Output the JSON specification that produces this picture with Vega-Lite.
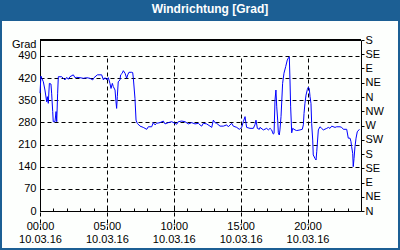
{
  "$schema": "https://vega.github.io/schema/vega-lite/v6.json",
  "width": 396,
  "height": 227,
  "autosize": {"type": "none"},
  "padding": {"left": 2, "top": 21, "right": 2, "bottom": 2},
  "background": "#1c5f94",
  "title": {"text": "Windrichtung [Grad]", "color": "#ffffff", "font": "Liberation Sans", "fontSize": 12, "fontWeight": "bold", "anchor": "middle", "frame": "group", "baseline": "middle", "offset": 0, "dx": 10, "dy": 0},
  "config": {
    "view": {"fill": "#fdfffd", "stroke": null},
    "axis": {"labelFont": "Liberation Sans", "labelFontSize": 11, "labelColor": "#000000", "titleFont": "Liberation Sans", "titleFontSize": 11, "titleFontWeight": "normal", "titleColor": "#000000", "domainColor": "#000000", "tickColor": "#000000", "gridColor": "#000000", "gridOpacity": 1, "gridDash": [4, 3], "domainWidth": 1, "tickWidth": 1, "gridWidth": 1}
  },
  "data": {"values": [
    {"h":0,"v":372},{"h":0.07,"v":426},{"h":0.25,"v":408},{"h":0.37,"v":382},{"h":0.5,"v":345},{"h":0.55,"v":361},{"h":0.62,"v":340},{"h":0.7,"v":403},{"h":0.82,"v":401},{"h":0.87,"v":372},{"h":0.95,"v":314},{"h":0.99,"v":282},{"h":1.12,"v":282},{"h":1.2,"v":314},{"h":1.25,"v":282},{"h":1.32,"v":372},{"h":1.37,"v":424},{"h":1.62,"v":424},{"h":1.74,"v":419},{"h":1.87,"v":414},{"h":2.0,"v":422},{"h":2.12,"v":416},{"h":2.24,"v":424},{"h":2.49,"v":430},{"h":2.62,"v":421},{"h":2.74,"v":422},{"h":2.99,"v":421},{"h":3.24,"v":419},{"h":3.49,"v":421},{"h":3.74,"v":419},{"h":3.94,"v":414},{"h":4.04,"v":421},{"h":4.29,"v":430},{"h":4.61,"v":430},{"h":4.74,"v":414},{"h":4.86,"v":421},{"h":4.99,"v":414},{"h":5.11,"v":421},{"h":5.23,"v":403},{"h":5.31,"v":387},{"h":5.41,"v":403},{"h":5.48,"v":393},{"h":5.61,"v":382},{"h":5.68,"v":345},{"h":5.73,"v":324},{"h":5.78,"v":361},{"h":5.85,"v":408},{"h":5.98,"v":414},{"h":6.03,"v":430},{"h":6.15,"v":435},{"h":6.23,"v":443},{"h":6.36,"v":435},{"h":6.48,"v":419},{"h":6.56,"v":430},{"h":6.65,"v":438},{"h":6.86,"v":438},{"h":6.93,"v":437},{"h":6.98,"v":419},{"h":7.1,"v":356},{"h":7.18,"v":287},{"h":7.27,"v":277},{"h":7.48,"v":268},{"h":7.72,"v":264},{"h":7.98,"v":258},{"h":8.1,"v":266},{"h":8.35,"v":266},{"h":8.47,"v":279},{"h":8.6,"v":272},{"h":8.72,"v":277},{"h":8.97,"v":279},{"h":9.22,"v":284},{"h":9.35,"v":275},{"h":9.59,"v":279},{"h":9.85,"v":282},{"h":10.22,"v":274},{"h":10.34,"v":282},{"h":10.59,"v":284},{"h":10.84,"v":282},{"h":11.09,"v":275},{"h":11.34,"v":279},{"h":11.59,"v":275},{"h":11.84,"v":277},{"h":11.96,"v":272},{"h":12.09,"v":268},{"h":12.21,"v":277},{"h":12.46,"v":275},{"h":12.71,"v":268},{"h":12.84,"v":264},{"h":12.96,"v":287},{"h":13.08,"v":279},{"h":13.21,"v":277},{"h":13.46,"v":268},{"h":13.71,"v":268},{"h":13.96,"v":272},{"h":14.08,"v":266},{"h":14.33,"v":277},{"h":14.45,"v":268},{"h":14.71,"v":264},{"h":14.9,"v":258},{"h":15.08,"v":264},{"h":15.2,"v":282},{"h":15.33,"v":298},{"h":15.4,"v":277},{"h":15.45,"v":264},{"h":15.7,"v":261},{"h":15.95,"v":261},{"h":16.07,"v":272},{"h":16.15,"v":287},{"h":16.25,"v":261},{"h":16.4,"v":258},{"h":16.45,"v":264},{"h":16.7,"v":256},{"h":16.95,"v":261},{"h":17.07,"v":256},{"h":17.2,"v":261},{"h":17.32,"v":256},{"h":17.44,"v":243},{"h":17.5,"v":245},{"h":17.57,"v":350},{"h":17.64,"v":382},{"h":17.7,"v":329},{"h":17.77,"v":287},{"h":17.82,"v":247},{"h":17.89,"v":240},{"h":17.94,"v":256},{"h":18.02,"v":298},{"h":18.14,"v":403},{"h":18.24,"v":435},{"h":18.37,"v":456},{"h":18.49,"v":477},{"h":18.59,"v":485},{"h":18.64,"v":487},{"h":18.69,"v":414},{"h":18.74,"v":329},{"h":18.82,"v":247},{"h":18.89,"v":261},{"h":19.07,"v":256},{"h":19.19,"v":254},{"h":19.44,"v":256},{"h":19.61,"v":258},{"h":19.69,"v":272},{"h":19.74,"v":308},{"h":19.81,"v":340},{"h":19.89,"v":366},{"h":19.99,"v":384},{"h":20.06,"v":391},{"h":20.13,"v":387},{"h":20.19,"v":361},{"h":20.26,"v":340},{"h":20.31,"v":277},{"h":20.39,"v":224},{"h":20.43,"v":177},{"h":20.56,"v":166},{"h":20.64,"v":161},{"h":20.69,"v":187},{"h":20.81,"v":256},{"h":20.93,"v":266},{"h":21.06,"v":261},{"h":21.18,"v":256},{"h":21.44,"v":261},{"h":21.56,"v":264},{"h":21.68,"v":261},{"h":21.81,"v":268},{"h":22.06,"v":264},{"h":22.18,"v":266},{"h":22.43,"v":266},{"h":22.56,"v":264},{"h":22.68,"v":258},{"h":22.93,"v":258},{"h":23.05,"v":230},{"h":23.18,"v":230},{"h":23.25,"v":219},{"h":23.3,"v":203},{"h":23.38,"v":182},{"h":23.42,"v":140},{"h":23.48,"v":166},{"h":23.55,"v":203},{"h":23.63,"v":230},{"h":23.72,"v":250},{"h":23.88,"v":258}
  ]},
  "layer": [
    {
      "mark": {"type": "line", "color": "#0000ff", "strokeWidth": 1},
      "encoding": {
        "x": {"field": "h", "type": "quantitative",
          "scale": {"domain": [0, 24], "range": [38, 359], "nice": false, "zero": false},
          "axis": {"orient": "bottom", "offset": -37, "values": [0, 5, 10, 15, 20], "grid": true, "ticks": false, "tickSize": 0, "domain": true, "labelPadding": 9, "labelLineHeight": 13, "labelExpr": "[(datum.value < 10 ? '0' : '') + datum.value + ':00', '\u00a0\u00a0\u00a0\u00a010.03.16']", "title": null, "labelFlush": false, "labelOverlap": false}},
        "y": {"field": "v", "type": "quantitative",
          "scale": {"domain": [0, 540], "range": [190, 19], "nice": false, "zero": false},
          "axis": {"orient": "left", "offset": -38, "values": [0, 70, 140, 210, 280, 350, 420, 490], "grid": true, "ticks": false, "tickSize": 0, "labelPadding": 4, "title": "Grad", "titleAngle": 0, "titleAlign": "right", "titleBaseline": "middle", "titleX": -4, "titleY": 23.5, "labelFlush": false, "labelOverlap": false}}
      }
    },
    {
      "mark": {"type": "rule", "color": "#000000", "strokeWidth": 1},
      "encoding": {
        "x": {"datum": 0, "type": "quantitative",
          "axis": {"orient": "bottom", "offset": -37, "values": [0,1,2,3,4,5,6,7,8,9,10,11,12,13,14,15,16,17,18,19,20,21,22,23,24], "labels": false, "domain": false, "grid": false, "ticks": true, "tickSize": -3, "title": null}},
        "x2": {"datum": 24},
        "y": {"datum": 540, "type": "quantitative",
          "axis": {"orient": "right", "offset": -37, "values": [0,45,90,135,180,225,270,315,360,405,450,495,540], "grid": false, "ticks": true, "tickSize": 3, "labelPadding": 1, "labelExpr": "['N','NE','E','SE','S','SW','W','NW'][round(datum.value / 45) % 8]", "title": null, "labelFlush": false, "labelOverlap": false}}
      }
    }
  ],
  "resolve": {"axis": {"x": "independent", "y": "independent"}}
}
